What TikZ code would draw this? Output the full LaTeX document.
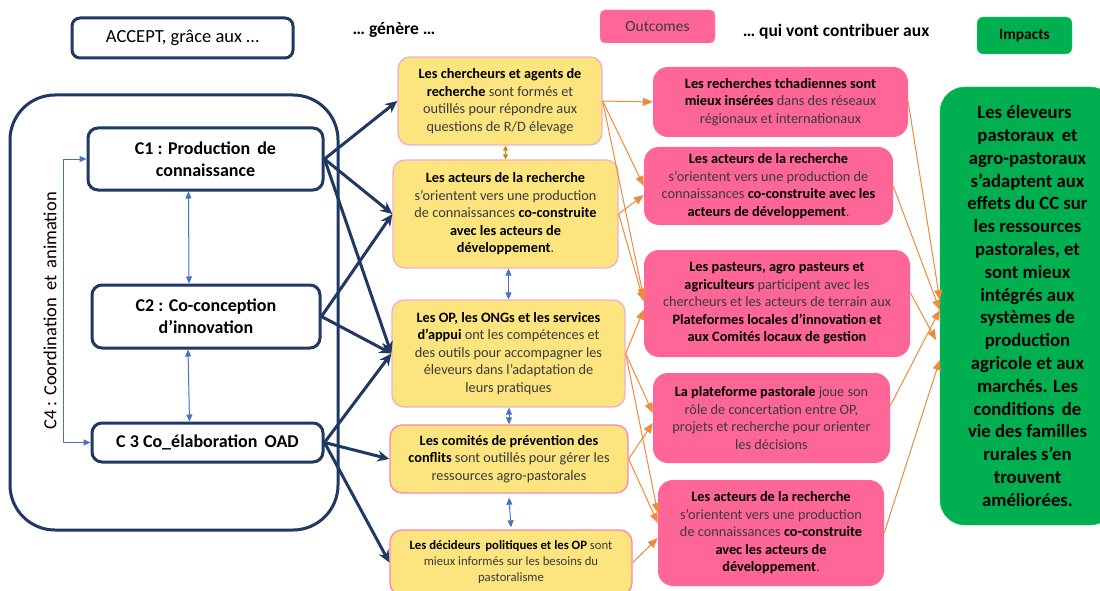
\documentclass[tikz,border=0pt]{standalone}
\usepackage{fontspec}
\setmainfont{Carlito}
\usetikzlibrary{arrows.meta}
\definecolor{navy}{HTML}{1F3864}
\definecolor{ybox}{HTML}{FCE57E}
\definecolor{yline}{HTML}{F2AFCB}
\definecolor{pbox}{HTML}{FE6697}
\definecolor{gbox}{HTML}{00B050}
\definecolor{oarrow}{HTML}{F08A3C}
\definecolor{barrow}{HTML}{4472C4}
\definecolor{gold}{HTML}{BF9000}
\definecolor{txt}{HTML}{3A3A3A}
\newcommand\hb[1]{\textbf{\color{black}#1}}
\tikzset{
  sz/.style 2 args={minimum width=#1pt, minimum height=#2pt, inner sep=0pt},
  cbox/.style={draw=navy, line width=3pt, rounded corners=10pt, align=center,
    font=\fontsize{18}{22}\selectfont\bfseries},
  ybx/.style={draw=yline, line width=1.3pt, fill=ybox, rounded corners=12pt,
    align=center, text=txt, font=\fontsize{14.3}{17.5}\selectfont},
  pbx/.style={fill=pbox, rounded corners=15pt, align=center, text=txt,
    font=\fontsize{14.3}{17.5}\selectfont},
  narr/.style={navy, line width=3pt, -{Stealth[length=12pt,width=11pt]}},
  oarr/.style={oarrow, line width=1pt, -{Triangle[length=10pt,width=8pt]}},
  barr/.style={barrow, line width=1pt, {Triangle[length=7pt,width=6pt]}-{Triangle[length=7pt,width=6pt]}},
  head/.style={font=\fontsize{17.5}{20}\selectfont\bfseries},
}
\begin{document}
\begin{tikzpicture}[x=1pt,y=-1pt, line join=round]
\useasboundingbox (0,0) rectangle (1100,591);
\clip (0,0) rectangle (1100,591);
\fill[white] (0,0) rectangle (1100,591);

% titres
\node[draw=navy, line width=3pt, rounded corners=8pt, sz={221}{40},
  font=\fontsize{18.5}{21}\selectfont] (accept) at (182.5,38) {ACCEPT, grâce aux …};
\node[head] (genere) at (394,30) {… génère …};
\node[fill=pbox, draw=pbox!70, rounded corners=5pt, sz={115}{33}, text=txt,
  font=\fontsize{15.5}{18}\selectfont] (outcomes) at (657.5,26.5) {Outcomes};
\node[head] (contrib) at (836,32) {… qui vont contribuer aux};
\node[fill=gbox, draw=gbox!60, rounded corners=6pt, sz={95}{37},
  font=\fontsize{15.5}{18}\selectfont\bfseries] (impacts) at (1024.5,35.5) {Impacts};

% composantes
\node[draw=navy, line width=3pt, rounded corners=45pt, sz={328}{435}] (c4) at (174,312.5) {};
\node[rotate=90, font=\fontsize{18.5}{21}\selectfont] (c4txt) at (50,311) {C4 : Coordination\, et\, animation};
\node[cbox, sz={235}{62}] (c1) at (205.5,159) {C1 : Production\, de\\connaissance};
\node[cbox, sz={228}{63}] (c2) at (206,316.5) {C2 : Co-conception\\d’innovation};
\node[cbox, sz={231}{39}] (c3) at (207.5,442.5) {C 3 Co\_élaboration\,  OAD};
\draw[barr] ([xshift=-17pt]c1.south) -- ([xshift=-17pt]c2.north);
\draw[barr] ([xshift=-18pt]c2.south) -- ([xshift=-18pt]c3.north);
\draw[barr] (c1.west) -- ++(-23,0) |- (c3.west);

% produits
\node[ybx, sz={204}{88}] (y1) at (500,101)
  {\hb{Les chercheurs et agents de}\\\hb{recherche} sont formés et\\outillés pour répondre aux\\questions de R/D élevage};
\node[ybx, sz={225}{108}] (y2) at (505.5,214)
  {\hb{Les acteurs de la recherche}\\s’orientent vers une production\\de connaissances \hb{co-construite}\\\hb{avec les acteurs de}\\\hb{développement}.};
\node[ybx, sz={233}{107}] (y3) at (508.5,353.5)
  {\hb{Les OP, les ONGs et les services}\\\hb{d’appui} ont les compétences et\\des outils pour accompagner les\\éleveurs dans l’adaptation de\\leurs pratiques};
\node[ybx, draw=pbox!80, sz={238}{68}] (y4) at (509,459)
  {\hb{Les comités de prévention des}\\\hb{conflits} sont outillés pour gérer les\\ressources agro-pastorales};
\node[ybx, draw=pbox!80, sz={242}{65}, font=\fontsize{12.7}{16}\selectfont] (y5) at (511,562.5)
  {\hb{Les décideurs\,  politiques et les OP} sont\\mieux informés sur les besoins du\\pastoralisme};
\draw[gold, line width=1.5pt, {Triangle[length=5pt,width=5pt]}-{Triangle[length=5pt,width=5pt]}] (y2.north) -- (y2.north |- y1.south);
\draw[barr] (y3.north) -- (y3.north |- y2.south);
\draw[barr] (y4.north) -- (y4.north |- y3.south);
\draw[barr] ([yshift=-4pt]y4.south) -- ([yshift=2pt]y5.north);

% outcomes
\node[pbx, sz={255}{70}] (p1) at (780.5,102)
  {\hb{Les recherches tchadiennes sont}\\\hb{mieux insérées} dans des réseaux\\régionaux et internationaux};
\node[pbx, sz={249}{78}] (p2) at (768.5,186)
  {\hb{Les acteurs de la recherche}\\s’orientent vers une production de\\connaissances \hb{co-construite avec les}\\\hb{acteurs de développement}.};
\node[pbx, sz={266}{107}] (p3) at (777,303.5)
  {\hb{Les pasteurs, agro pasteurs et}\\\hb{agriculteurs} participent avec les\\chercheurs et les acteurs de terrain aux\\\hb{Plateformes locales d’innovation et}\\\hb{aux Comités locaux de gestion}};
\node[pbx, sz={237}{90}] (p4) at (771.5,418)
  {\hb{La plateforme pastorale} joue son\\rôle de concertation entre OP,\\projets et recherche pour orienter\\les décisions};
\node[pbx, sz={226}{106}] (p5) at (771,533)
  {\hb{Les acteurs de la recherche}\\s’orientent vers une production\\de connaissances \hb{co-construite}\\\hb{avec les acteurs de}\\\hb{développement}.};

% impact
\node[fill=gbox, draw=gbox!70!green, rounded corners=25pt, sz={175}{438}, align=center,
  font=\fontsize{18.7}{22.8}\selectfont\bfseries] (imp) at (1027.5,306)
  {\hspace*{-6pt}Les éleveurs\\pastoraux\, et\\agro-pastoraux\\s’adaptent aux\\effets du CC sur\\les ressources\\pastorales, et\\sont mieux\\intégrés aux\\systèmes de\\production\\agricole et aux\\marchés. Les\\conditions\, de\\vie des familles\\rurales s’en\\trouvent\\améliorées.};

% liens composantes -> produits
\draw[narr] (c1.east) -- (y1.west);
\draw[narr] (c1.east) -- (y2.west);
\draw[narr] (c1.east) -- (y3.west);
\draw[narr] (c2.east) -- (y2.west);
\draw[narr] (c2.east) -- (y3.west);
\draw[narr] (c3.east) -- (y3.west);
\draw[narr] (c3.east) -- (y4.west);
\draw[narr] (c3.east) -- (y5.west);

% liens produits -> outcomes
\draw[oarr] (y1.east) -- (p1.west);
\draw[oarr] (y1.east) -- (p2.west);
\draw[oarr] (y1.east) -- ([yshift=5pt]p3.west);
\draw[oarr] (y2.east) -- ([yshift=-9pt]p2.west);
\draw[oarr] (y2.east) -- ([yshift=2pt]p3.west);
\draw[oarr] (y3.east) -- ([yshift=-6pt]p3.west);
\draw[oarr] (y3.east) -- ([yshift=5pt]p4.west);
\draw[oarr] (y3.east) -- ([yshift=20pt]p5.west);
\draw[oarr] (y4.east) -- ([yshift=-5pt]p4.west);
\draw[oarr] (y4.east) -- ([yshift=10pt]p5.west);
\draw[oarr] (y5.east) -- ([yshift=-5pt]p5.west);

% liens outcomes -> impact
\draw[oarr] (p1.east) -- ([yshift=6pt]imp.west);
\draw[oarr] (p2.east) -- ([yshift=-4pt]imp.west);
\draw[oarr, shorten >=8pt] ([yshift=11pt]p3.east) -- ([yshift=-41pt]imp.west);
\draw[oarr] ([yshift=12pt]p4.east) -- ([yshift=-4pt]imp.west);
\draw[oarr] (p5.east) -- ([yshift=-54pt]imp.west);
\end{tikzpicture}
\end{document}
